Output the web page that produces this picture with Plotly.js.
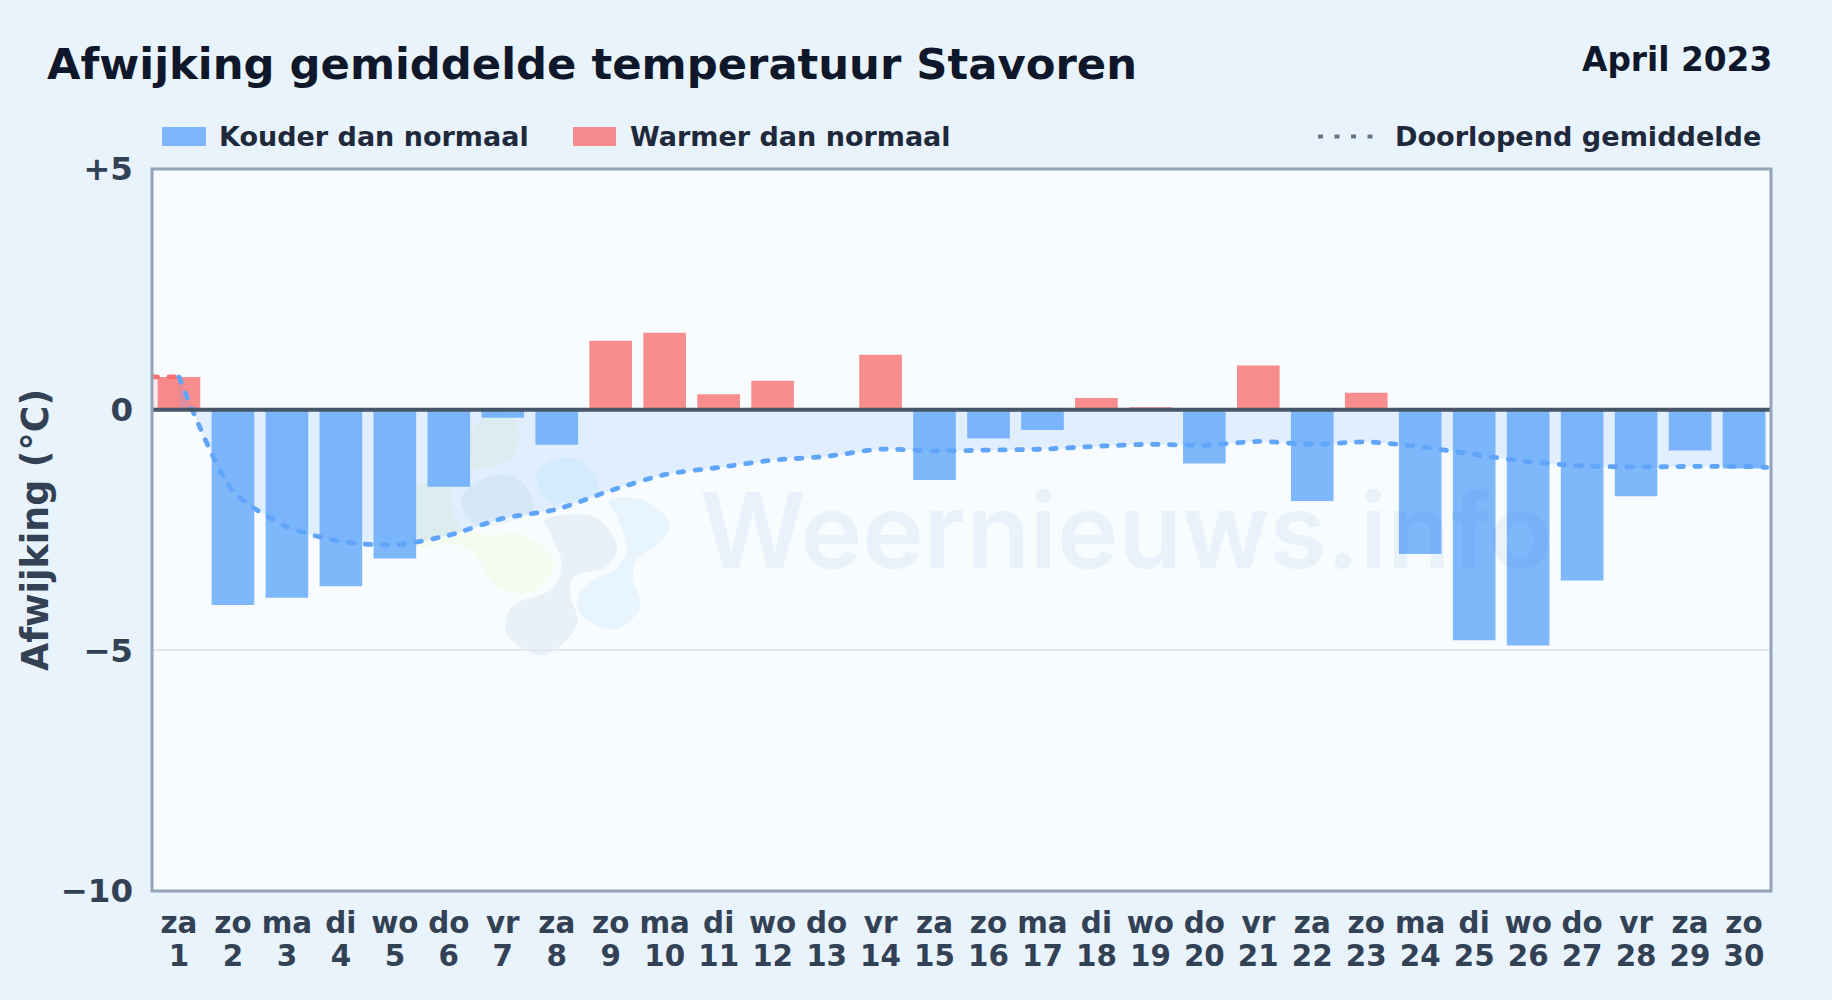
<!DOCTYPE html>
<html>
<head>
<meta charset="utf-8">
<script src="https://cdn.plot.ly/plotly-3.0.1.min.js"></script>
<style>
html,body{margin:0;padding:0;background:#e9f3fc;}
.js-line{stroke-linecap:round;}
</style>
</head>
<body>
<div id="chart" style="width:1832px;height:1000px"></div>
<script>
var days = [1,2,3,4,5,6,7,8,9,10,11,12,13,14,15,16,17,18,19,20,21,22,23,24,25,26,27,28,29,30];
var weekdays = ["za","zo","ma","di","wo","do","vr","za","zo","ma","di","wo","do","vr","za","zo","ma","di","wo","do","vr","za","zo","ma","di","wo","do","vr","za","zo"];
var kouder = [null,-4.06,-3.91,-3.67,-3.09,-1.6,-0.17,-0.73,null,null,null,null,null,null,-1.46,-0.6,-0.42,null,null,-1.12,null,-1.9,null,-3.0,-4.79,-4.9,-3.55,-1.8,-0.85,-1.22];
var warmer = [0.68,null,null,null,null,null,null,null,1.43,1.6,0.32,0.6,null,1.14,null,null,null,0.24,0.05,null,0.92,null,0.35,null,null,null,null,null,null,null];
var runX = [1,2,3,4,5,6,7,8,9,10,11,12,13,14,15,16,17,18,19,20,21,22,23,24,25,26,27,28,29,30,30.42];
var running = [0.68,-1.69,-2.43,-2.74,-2.81,-2.61,-2.26,-2.07,-1.68,-1.35,-1.2,-1.05,-0.97,-0.82,-0.86,-0.84,-0.82,-0.76,-0.72,-0.74,-0.66,-0.72,-0.67,-0.77,-0.93,-1.08,-1.17,-1.19,-1.18,-1.18,-1.2];
var runWarmX = [0.5,1];
var runWarm = [0.68,0.68];
var yTicks = [5,0,-5,-10];
var yLabels = ["+5","0","\u22125","\u221210"];

var W=1832,H=1000;
function px(x){return (x-152)/(1771-152);}
function py(y){return (891-y)/(891-169);}
function blob(pts,color){
  var n=pts.length,d="";
  var P=pts.map(function(p){return [px(p[0]),py(p[1])];});
  d="M"+P[0][0]+","+P[0][1];
  for(var i=0;i<n;i++){
    var p0=P[(i-1+n)%n],p1=P[i],p2=P[(i+1)%n],p3=P[(i+2)%n];
    d+=" C"+(p1[0]+(p2[0]-p0[0])/6)+","+(p1[1]+(p2[1]-p0[1])/6)+" "+(p2[0]-(p3[0]-p1[0])/6)+","+(p2[1]-(p3[1]-p1[1])/6)+" "+p2[0]+","+p2[1];
  }
  d+=" Z";
  return {type:"path",xref:"paper",yref:"paper",path:d,fillcolor:color,line:{width:0},layer:"below"};
}
function z(list){return list.map(function(p){return [380+p[0]/3,420+p[1]/3];});}

var logo=[
 blob(z([[340,-25],[410,10],[410,90],[360,135],[290,145],[215,200],[215,260],[245,325],[330,345],[430,345],[520,420],[480,500],[410,520],[340,490],[290,410],[220,370],[110,380],[60,300],[90,210],[180,180],[260,120],[270,40]]),"#f4fbef"),
 blob(z([[340,165],[420,180],[460,250],[440,290],[370,310],[300,320],[255,280],[250,220]]),"#ecf5f8"),
 blob(z([[550,112],[625,140],[655,210],[590,240],[520,250],[480,210],[475,150]]),"#eaf7fe"),
 blob(z([[500,295],[640,290],[710,370],[680,440],[590,465],[570,520],[590,620],[490,705],[385,650],[385,580],[420,545],[510,510],[545,430],[510,340]]),"#e9f1f8"),
 blob(z([[690,240],[790,240],[868,310],[830,375],[770,420],[760,480],[780,565],[700,630],[610,590],[595,530],[640,480],[710,445],[740,380],[715,300]]),"#e8f4fe")
];

var data=[
 {type:"bar",name:"Kouder dan normaal",x:days,y:kouder,width:0.79,marker:{color:"rgba(96,165,250,0.8)",line:{width:0}},showlegend:false},
 {type:"bar",name:"Warmer dan normaal",x:days,y:warmer,width:0.79,marker:{color:"rgba(248,113,113,0.8)",line:{width:0}},showlegend:false},
 {type:"scatter",mode:"lines",name:"Doorlopend gemiddelde",x:runWarmX,y:runWarm,fill:"tozeroy",fillcolor:"rgba(248,113,113,0.12)",line:{color:"#f87171",width:4.8,dash:"5.5px,11.5px"},showlegend:false},
 {type:"scatter",mode:"lines",name:"Doorlopend gemiddelde",x:runX,y:running,fill:"tozeroy",fillcolor:"rgba(96,165,250,0.155)",line:{color:"#60a5fa",width:4.8,dash:"5.5px,11.5px",shape:"spline",smoothing:0.7},showlegend:false},
 {type:"scatter",mode:"lines",x:days,y:days.map(function(){return null;}),xaxis:"x2",showlegend:false,hoverinfo:"skip"}
];

function legendText(text,x,anchor,size){
  return {xref:"paper",yref:"paper",x:px(x),y:py(136.5),xanchor:anchor,yanchor:"middle",showarrow:false,text:text,
    font:{family:"DejaVu Sans",size:size||27,weight:700,color:"#1e293b"}};
}
var xFont={family:"DejaVu Sans",size:29.4,weight:700,color:"#334155"};

var layout={
 width:W,height:H,autosize:false,
 paper_bgcolor:"#e9f3fc",plot_bgcolor:"#f8fcff",
 margin:{l:152,r:61,t:169,b:109,pad:0},
 barmode:"overlay",
 font:{family:"DejaVu Sans",color:"#334155"},
 title:{text:"Afwijking gemiddelde temperatuur Stavoren",xref:"container",yref:"container",x:47/W,xanchor:"left",y:1-64/H,yanchor:"middle",
   font:{family:"DejaVu Sans",size:43.3,weight:700,color:"#0f172a"}},
 xaxis:{range:[0.5,30.5],tickmode:"array",tickvals:days,ticktext:weekdays,showgrid:false,zeroline:false,showline:false,ticks:"",
   ticklabelstandoff:12,tickangle:0,tickfont:xFont,automargin:false},
 xaxis2:{range:[0.5,30.5],overlaying:"x",anchor:"y",side:"bottom",tickmode:"array",tickvals:days,ticktext:days.map(String),showgrid:false,zeroline:false,showline:false,ticks:"",
   ticklabelstandoff:45,tickangle:0,tickfont:xFont,automargin:false},
 yaxis:{range:[-10,5],tickmode:"array",tickvals:yTicks,ticktext:yLabels,showgrid:true,gridcolor:"#e2e8f0",gridwidth:2,zeroline:false,showline:false,ticks:"",
   ticklabelstandoff:18,tickfont:{family:"DejaVu Sans",size:32.5,weight:700,color:"#334155"},automargin:true,
   title:{text:"Afwijking (°C)",standoff:0,font:{family:"DejaVu Sans",size:36.4,weight:700,color:"#334155"}}},
 shapes:logo.concat([
   {type:"line",xref:"paper",yref:"y",x0:0,x1:1,y0:0,y1:0,line:{color:"#475569",width:4},layer:"above"},
   {type:"rect",xref:"paper",yref:"paper",x0:0,x1:1,y0:0,y1:1,line:{color:"#94a3b8",width:3},fillcolor:"rgba(0,0,0,0)",layer:"above"},
   {type:"rect",xref:"paper",yref:"paper",x0:px(162),x1:px(206),y0:py(146),y1:py(127),line:{width:0},fillcolor:"rgba(96,165,250,0.8)"},
   {type:"rect",xref:"paper",yref:"paper",x0:px(573),x1:px(616),y0:py(146),y1:py(127),line:{width:0},fillcolor:"rgba(248,113,113,0.8)"},
   {type:"line",xref:"paper",yref:"paper",x0:px(1318),x1:px(1373),y0:py(136.5),y1:py(136.5),line:{color:"#64748b",width:4,dash:"5px,11.5px"}}
 ]),
 annotations:[
   {xref:"paper",yref:"paper",x:px(1774),y:py(60),xanchor:"right",yanchor:"middle",showarrow:false,text:"April 2023",
    font:{family:"DejaVu Sans",size:32.8,weight:700,color:"#0f172a"}},
   legendText("Kouder dan normaal",217,"left"),
   legendText("Warmer dan normaal",628,"left"),
   legendText("Doorlopend gemiddelde",1763,"right",27.1),
   {xref:"paper",yref:"paper",x:px(698),y:py(530),xanchor:"left",yanchor:"middle",showarrow:false,text:"Weernieuws.info",
    font:{family:"Inter",size:104,weight:600,color:"rgba(48,110,190,0.075)"}}
 ]
};
Plotly.newPlot("chart",data,layout,{displayModeBar:false,responsive:false});
</script>
</body>
</html>
